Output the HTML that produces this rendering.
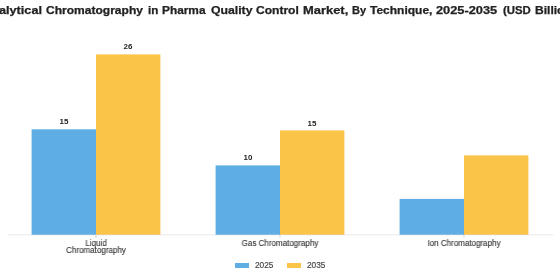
<!DOCTYPE html>
<html><head><meta charset="utf-8">
<style>
html,body{margin:0;padding:0;background:#fff;}
body{width:560px;height:280px;position:relative;overflow:hidden;font-family:"Liberation Sans",sans-serif;}
.t{position:absolute;white-space:pre;line-height:1;will-change:transform;}
.bar{position:absolute;}
.b{background:#5EAEE3;}
.o{background:#FAC448;}
.tw{position:absolute;white-space:pre;line-height:1;font-weight:bold;font-size:10.4px;color:#222;top:5.5px;transform-origin:0 0;will-change:transform;-webkit-text-stroke:0.25px #222;}
.v{font-weight:bold;font-size:7.5px;color:#222;text-align:center;width:40px;transform:scaleX(1.06);}
.c{font-size:8.3px;color:#333;text-align:center;width:120px;transform:scaleX(0.965);-webkit-text-stroke:0.12px #333;}
.lg{font-size:8.3px;color:#444;-webkit-text-stroke:0.15px #444;}
</style></head><body>
<div class="tw" style="left:-1.3px;transform:scaleX(1.22)">alytical</div>
<div class="tw" style="left:46.24px;transform:scaleX(1.158)">Chromatography</div>
<div class="tw" style="left:147.62px;transform:scaleX(1.114)">in</div>
<div class="tw" style="left:162.40px;transform:scaleX(1.141)">Pharma</div>
<div class="tw" style="left:210.53px;transform:scaleX(1.178)">Quality</div>
<div class="tw" style="left:256.29px;transform:scaleX(1.159)">Control</div>
<div class="tw" style="left:302.63px;transform:scaleX(1.243)">Market,</div>
<div class="tw" style="left:351.51px;transform:scaleX(1.060)">By</div>
<div class="tw" style="left:369.88px;transform:scaleX(1.154)">Technique,</div>
<div class="tw" style="left:436.26px;transform:scaleX(1.232)">2025-2035</div>
<div class="tw" style="left:502.65px;transform:scaleX(1.094)">(USD</div>
<div class="tw" style="left:534.89px;transform:scaleX(1.160)">Billion)</div>



<svg width="560" height="280" style="position:absolute;left:0;top:0">
<g fill="#5EAEE3">
<rect x="31.6" y="129.3" width="64.4" height="105.4"/>
<rect x="215.6" y="165.4" width="64.4" height="69.3"/>
<rect x="399.6" y="198.9" width="64.4" height="35.8"/>
</g>
<g fill="#FAC448">
<rect x="96" y="54.4" width="64.4" height="180.3"/>
<rect x="280" y="130.4" width="64.4" height="104.3"/>
<rect x="464" y="155.4" width="64.4" height="79.3"/>
</g>
<rect x="7.5" y="234.4" width="545.8" height="1" fill="#000" fill-opacity="0.085"/>
<g fill="#000" fill-opacity="0.22">
<rect x="95.6" y="235.2" width="0.8" height="2.6"/>
<rect x="279.6" y="235.2" width="0.8" height="2.6"/>
<rect x="463.6" y="235.2" width="0.8" height="2.6"/>
</g>
</svg>
<div class="t v" style="left:44px;top:118px">15</div>
<div class="t v" style="left:108px;top:43px">26</div>
<div class="t v" style="left:228px;top:154.4px">10</div>
<div class="t v" style="left:292px;top:119.6px">15</div>

<div class="t c" style="left:36px;top:239px">Liquid</div>
<div class="t c" style="left:36px;top:246.4px">Chromatography</div>
<div class="t c" style="left:220px;top:239px">Gas Chromatography</div>
<div class="t c" style="left:404px;top:239px">Ion Chromatography</div>

<div class="bar b" style="left:235px;top:263px;width:14px;height:5px"></div>
<div class="t lg" style="left:255px;top:261.2px">2025</div>
<div class="bar o" style="left:287px;top:263px;width:14px;height:5px"></div>
<div class="t lg" style="left:307px;top:261.2px">2035</div>
</body></html>
